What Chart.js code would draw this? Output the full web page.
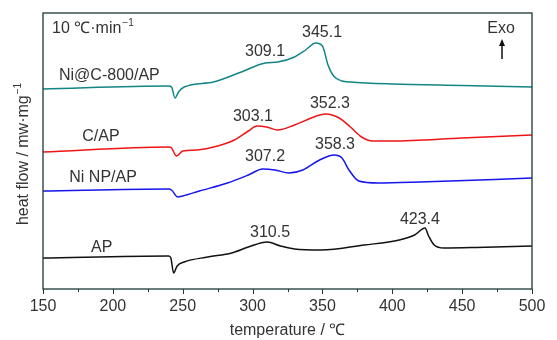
<!DOCTYPE html>
<html>
<head>
<meta charset="utf-8">
<script src="https://cdn.jsdelivr.net/npm/chart.js@4"></script>
<style>
  html, body { margin: 0; padding: 0; background: #fff; }
  #wrap { width: 557px; height: 340px; }
</style>
</head>
<body>
<div id="wrap"><canvas id="dsc"></canvas></div>
<script>
// DSC curves, heat flow in arbitrary units (offset per sample)
let tempNiC = Array.of(150, 240, 242, 244.5, 247, 251, 272, 292, 309, 318, 330, 338, 345.1, 350, 354, 358, 364, 370, 400, 450, 500);
let flowNiC = Array.of(200, 203, 202, 191, 197, 202, 207, 217, 226, 227, 232, 239, 246, 243, 224, 213, 208, 207, 205, 203.5, 202);

let tempC = Array.of(150, 240, 242, 245.5, 250, 260, 275, 287, 297, 303.1, 310, 318, 330, 342, 352.3, 362, 370, 378, 386, 400, 450, 500);
let flowC = Array.of(137, 142, 141, 133, 138, 139, 143, 149, 158, 163, 162, 159, 164, 171, 175, 171, 162, 152, 148, 148, 151, 154);

let tempNi = Array.of(150, 240, 242, 246.5, 250, 262, 282, 297, 307.2, 316, 326, 336, 348, 358.3, 364, 369, 376, 390, 420, 500);
let flowNi = Array.of(98, 100, 99, 92, 93, 98, 106, 114, 120, 119, 116, 119, 129, 134, 131, 119, 108, 106, 107, 111);

let tempAP = Array.of(150, 240, 241.5, 243.5, 246, 251, 268, 285, 297, 310.5, 320, 330, 349, 380, 405, 416, 423.4, 426, 430, 437, 460, 500);
let flowAP = Array.of(31, 33, 31, 16, 23, 27, 32, 36, 42, 47, 43, 40, 39, 44, 49, 54, 61, 53, 44, 41, 41.5, 43);

let seriesNames = Array.of("Ni@C-800/AP", "C/AP", "Ni NP/AP", "AP");
let seriesColors = Array.of("#138585", "#f01414", "#1515ee", "#111111");

// peak labels: text, temperature, heat flow where the text sits
let peakTexts = Array.of("309.1", "345.1", "303.1", "352.3", "307.2", "358.3", "310.5", "423.4");
let peakTemps = Array.of(308.9, 349.7, 300.3, 355.4, 308.9, 359.0, 312.5, 419.8);
let peakFlows = Array.of(237, 256, 172, 185, 132, 144, 56, 69);

// series name labels
let nameTemps = Array.of(197.5, 191.5, 193, 192);
let nameFlows = Array.of(213, 152, 111, 41);

let xTicks = Array.of(150, 175, 200, 225, 250, 275, 300, 325, 350, 375, 400, 425, 450, 475, 500);

function toPoints(xs, ys) {
    return xs.map((x, i) => ({ x: x, y: ys[i] }));
}

const FONT = "'Liberation Sans', Arial, sans-serif";
const FRAME = "#1d3636";
const TEXT = "#333333";

let datasets = [
    toPoints(tempNiC, flowNiC),
    toPoints(tempC, flowC),
    toPoints(tempNi, flowNi),
    toPoints(tempAP, flowAP)
].map((pts, i) => ({
    label: seriesNames[i],
    data: pts,
    borderColor: seriesColors[i],
    borderWidth: 1.5,
    pointRadius: 0,
    fill: false,
    cubicInterpolationMode: "monotone"
}));

const decorations = {
    id: "decorations",
    afterDraw(chart) {
        const c = chart.ctx;
        const xs = chart.scales.x;
        const ys = chart.scales.y;
        const a = chart.chartArea;
        c.save();

        // frame
        c.strokeStyle = FRAME;
        c.lineWidth = 1.3;
        c.strokeRect(a.left, a.top, a.right - a.left, a.bottom - a.top);

        // x ticks, outward, minor shorter
        c.lineWidth = 1;
        xTicks.forEach(t => {
            const px = Math.round(xs.getPixelForValue(t)) + 0.5;
            const len = (t % 50 === 0) ? 5 : 3;
            c.beginPath();
            c.moveTo(px, a.bottom);
            c.lineTo(px, a.bottom + len);
            c.stroke();
        });

        c.fillStyle = TEXT;
        c.font = "16px " + FONT;
        c.textAlign = "center";
        c.textBaseline = "middle";

        // peak values
        peakTexts.forEach((txt, i) => {
            c.fillText(txt, xs.getPixelForValue(peakTemps[i]), ys.getPixelForValue(peakFlows[i]));
        });

        // series names
        seriesNames.forEach((txt, i) => {
            c.fillText(txt, xs.getPixelForValue(nameTemps[i]), ys.getPixelForValue(nameFlows[i]));
        });

        // heating rate
        c.textAlign = "left";
        let x0 = a.left + 9;
        let y0 = a.top + 16;
        let s = "10 \u2103\u00b7min";
        c.fillText(s, x0, y0);
        let w = c.measureText(s).width;
        c.font = "10px " + FONT;
        c.fillText("\u22121", x0 + w + 1, y0 - 6);

        // Exo arrow
        c.font = "16px " + FONT;
        c.textAlign = "center";
        c.fillText("Exo", a.right - 31, a.top + 16);
        const ax = a.right - 30;
        c.strokeStyle = "#111";
        c.lineWidth = 1.5;
        c.beginPath();
        c.moveTo(ax, a.top + 46);
        c.lineTo(ax, a.top + 31);
        c.stroke();
        c.fillStyle = "#111";
        c.beginPath();
        c.moveTo(ax, a.top + 26);
        c.lineTo(ax - 3, a.top + 33);
        c.lineTo(ax + 3, a.top + 33);
        c.closePath();
        c.fill();

        // y axis title
        c.fillStyle = TEXT;
        c.translate(24, (a.top + a.bottom) / 2 + 3);
        c.rotate(-Math.PI / 2);
        c.font = "16px " + FONT;
        c.textAlign = "left";
        let yt = "heat flow / mw\u00b7mg";
        let yw = c.measureText(yt).width;
        c.font = "10px " + FONT;
        let sw = c.measureText("\u22121").width;
        let start = -(yw + sw + 1) / 2;
        c.font = "16px " + FONT;
        c.fillText(yt, start, 0);
        c.font = "10px " + FONT;
        c.fillText("\u22121", start + yw + 1, -6);

        c.restore();
    }
};

let dscChart = new Chart(document.getElementById("dsc"), {
    type: "line",
    data: { datasets: datasets },
    options: {
        responsive: true,
        maintainAspectRatio: false,
        animation: false,
        layout: { padding: { left: 43, right: 25, top: 13, bottom: 0 } },
        plugins: {
            legend: { display: false },
            tooltip: { enabled: false }
        },
        scales: {
            x: {
                type: "linear",
                min: 150,
                max: 500,
                afterBuildTicks: scale => {
                    scale.ticks = xTicks.filter(t => t % 50 === 0).map(v => ({ value: v }));
                },
                afterFit: scale => { scale.height = 51; },
                grid: { display: true, drawOnChartArea: false, color: "rgba(0,0,0,0)", tickLength: 5 },
                border: { display: false },
                ticks: {
                    padding: 3,
                    color: TEXT,
                    font: { family: FONT, size: 16 },
                    maxRotation: 0
                },
                title: {
                    display: true,
                    text: "temperature / \u2103",
                    color: TEXT,
                    font: { family: FONT, size: 16 },
                    padding: { top: 0, bottom: 0 }
                }
            },
            y: {
                display: false,
                min: 0,
                max: 276
            }
        }
    },
    plugins: [decorations]
});
</script>
</body>
</html>
